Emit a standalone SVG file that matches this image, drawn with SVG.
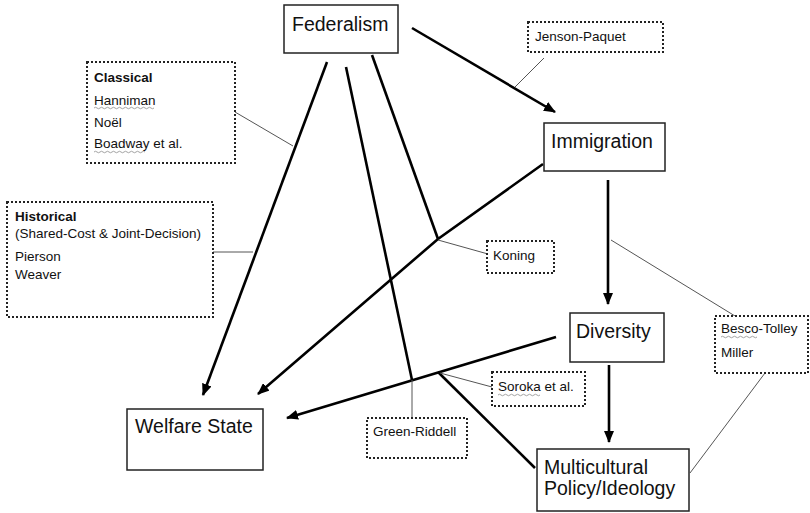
<svg xmlns="http://www.w3.org/2000/svg" width="810" height="513" viewBox="0 0 810 513">
<style>
.node{fill:#fff;stroke:#222;stroke-width:1.5}
.note{fill:#fff;stroke:#222;stroke-width:2;stroke-dasharray:2 2}
.big{font-family:"Liberation Sans",Arial,sans-serif;font-size:19.5px;fill:#111}
.sm{font-family:"Liberation Sans",Arial,sans-serif;font-size:13.5px;fill:#111}
.b{font-weight:bold}
.thick{fill:none;stroke:#000;stroke-width:2.6}
.thin{fill:none;stroke:#555;stroke-width:1}
.wave{fill:none;stroke:#999;stroke-width:0.9}
</style>
<defs>
<marker id="ah" markerUnits="userSpaceOnUse" markerWidth="12" markerHeight="10" refX="11" refY="5" orient="auto">
<path d="M0,0 L12,5 L0,10 Z" fill="#000"/>
</marker>
</defs>
<g id="connectors">
<line class="thick" x1="412" y1="28" x2="555" y2="112" marker-end="url(#ah)"/>
<line class="thick" x1="327" y1="62" x2="203" y2="395" marker-end="url(#ah)"/>
<line class="thick" x1="346" y1="67" x2="412" y2="380"/>
<line class="thick" x1="372" y1="55" x2="438" y2="239"/>
<polyline class="thick" points="543,164 438,239 258,394" marker-end="url(#ah)"/>
<line class="thick" x1="608" y1="180" x2="608" y2="304" marker-end="url(#ah)"/>
<line class="thick" x1="556" y1="337" x2="287" y2="418" marker-end="url(#ah)"/>
<line class="thick" x1="438" y1="372" x2="535" y2="468"/>
<line class="thick" x1="609" y1="365" x2="609" y2="442" marker-end="url(#ah)"/>
<line class="thin" x1="544" y1="58" x2="515" y2="87"/>
<line class="thin" x1="235" y1="112" x2="293" y2="146"/>
<line class="thin" x1="213" y1="252" x2="253" y2="252"/>
<line class="thin" x1="438" y1="240" x2="488" y2="254"/>
<line class="thin" x1="611" y1="240" x2="735" y2="316"/>
<line class="thin" x1="765" y1="373" x2="690" y2="473"/>
<line class="thin" x1="412" y1="380" x2="412" y2="418"/>
<line class="thin" x1="440" y1="373" x2="492" y2="387"/>
</g>
<g id="federalism">
<rect class="node" x="284" y="5" width="114" height="48"/>
<text class="big" x="292" y="31">Federalism</text>
</g>
<g id="jenson-paquet">
<rect class="note" x="528" y="22" width="135" height="30"/>
<text class="sm" x="535" y="41">Jenson-Paquet</text>
</g>
<g id="classical">
<rect class="note" x="87" y="62" width="148" height="101"/>
<text class="sm b" x="94" y="82">Classical</text>
<text class="sm" x="94" y="105">Hanniman</text>
<path class="wave" d="M94,108 q1.5,-1.5 3,0 t3,0 t3,0 t3,0 t3,0 t3,0 t3,0 t3,0 t3,0 t3,0 t3,0 t3,0 t3,0 t3,0 t3,0 t3,0 t3,0 t3,0 t3,0 t3,0"/>
<text class="sm" x="94" y="127">Noël</text>
<text class="sm" x="94" y="148">Boadway et al.</text>
<path class="wave" d="M94,152 q1.5,-1.5 3,0 t3,0 t3,0 t3,0 t3,0 t3,0 t3,0 t3,0 t3,0 t3,0 t3,0 t3,0 t3,0 t3,0 t3,0 t3,0 t3,0"/>
</g>
<g id="historical">
<rect class="note" x="7" y="202" width="206" height="115"/>
<text class="sm b" x="15" y="221">Historical</text>
<text class="sm" x="15" y="238">(Shared-Cost &amp; Joint-Decision)</text>
<text class="sm" x="15" y="261">Pierson</text>
<text class="sm" x="15" y="279">Weaver</text>
</g>
<g id="immigration">
<rect class="node" x="544" y="123" width="121" height="48"/>
<text class="big" x="551" y="148">Immigration</text>
</g>
<g id="koning">
<rect class="note" x="487" y="241" width="67" height="32"/>
<text class="sm" x="493" y="260">Koning</text>
</g>
<g id="diversity">
<rect class="node" x="570" y="313" width="94" height="49"/>
<text class="big" x="576" y="338">Diversity</text>
</g>
<g id="besco-tolley">
<rect class="note" x="715" y="316" width="93" height="57"/>
<text class="sm" x="721" y="333">Besco-Tolley</text>
<path class="wave" d="M721,337 q1.5,-1.5 3,0 t3,0 t3,0 t3,0 t3,0 t3,0 t3,0 t3,0 t3,0 t3,0 t3,0 t3,0"/>
<text class="sm" x="721" y="357">Miller</text>
</g>
<g id="soroka">
<rect class="note" x="492" y="372" width="93" height="34"/>
<text class="sm" x="498" y="391">Soroka et al.</text>
<path class="wave" d="M498,395 q1.5,-1.5 3,0 t3,0 t3,0 t3,0 t3,0 t3,0 t3,0 t3,0 t3,0 t3,0 t3,0 t3,0 t3,0 t3,0"/>
</g>
<g id="green-riddell">
<rect class="note" x="367" y="418" width="100" height="40"/>
<text class="sm" x="373" y="436">Green-Riddell</text>
</g>
<g id="welfare-state">
<rect class="node" x="127" y="409" width="136" height="61"/>
<text class="big" x="135" y="433">Welfare State</text>
</g>
<g id="multicultural">
<rect class="node" x="537" y="449" width="152" height="62"/>
<text class="big" x="544" y="474">Multicultural</text>
<text class="big" x="544" y="495">Policy/Ideology</text>
</g>
</svg>
